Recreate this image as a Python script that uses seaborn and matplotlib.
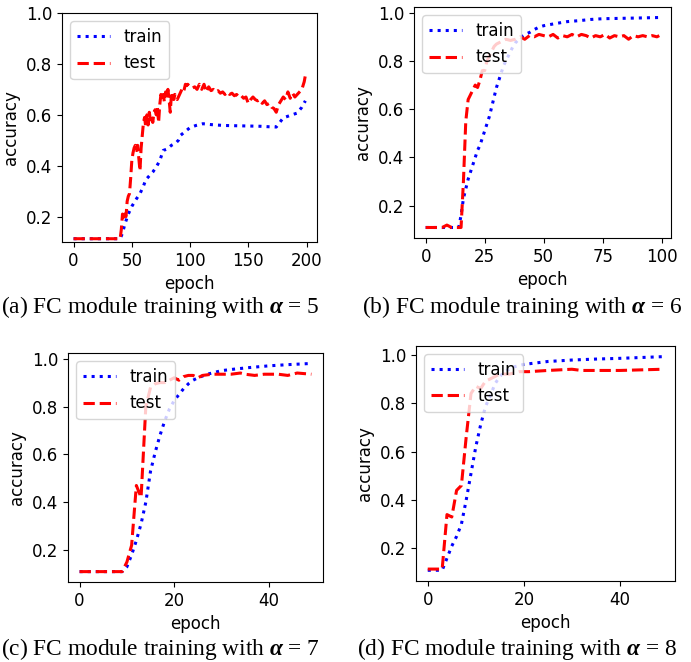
import matplotlib
matplotlib.use('Agg')
import matplotlib.pyplot as plt
import pandas as pd
import seaborn as sns

plt.rcParams.update({
    'font.size': 12.0,
    'mathtext.fontset': 'custom',
    'mathtext.rm': 'Liberation Serif',
    'mathtext.it': 'Liberation Serif:italic:bold',
})

# (a) alpha = 5, 200 epochs
a_train_ep = [0, 40, 42, 44, 47, 50, 54, 57, 60, 62, 65, 68, 71, 74, 77, 80, 84, 88, 90, 92, 96,
              100, 105, 111, 117, 122, 130, 140, 150, 160, 168, 174, 177, 180, 185, 192, 196, 199]
a_train_acc = [0.113, 0.113, 0.135, 0.17, 0.21, 0.24, 0.27, 0.29, 0.32, 0.345, 0.36, 0.375, 0.395, 0.42,
               0.46, 0.465, 0.48, 0.49, 0.50, 0.52, 0.535, 0.55, 0.558, 0.565, 0.562, 0.56, 0.558, 0.557,
               0.556, 0.555, 0.553, 0.552, 0.57, 0.588, 0.596, 0.607, 0.63, 0.655]
a_test_ep = [0, 40, 41, 42, 43, 44, 45, 46, 47, 48, 49, 50, 51, 52, 53, 54, 55, 56, 57, 58, 59,
             60, 61, 62, 63, 64, 65, 66, 67, 68, 69, 70, 71, 72, 73, 74, 75, 76, 77, 78, 79,
             80, 81, 82, 83, 84, 85, 86, 87, 88, 89, 90, 91, 92, 93, 94, 95, 96, 97, 98,
             100, 102, 104, 106, 108, 110, 112, 114, 116, 118, 120, 122, 124, 126, 128,
             130, 132, 134, 136, 138, 140, 142, 144, 146, 148, 150, 152, 154, 156, 158,
             160, 162, 164, 166, 168, 170, 172, 174, 176, 178, 180, 182, 184, 186, 188,
             190, 192, 194, 196, 198, 199]
a_test_acc = [0.113, 0.113, 0.15, 0.21, 0.19, 0.21, 0.20, 0.26, 0.28, 0.29, 0.35, 0.42, 0.45, 0.47,
              0.48, 0.46, 0.48, 0.43, 0.38, 0.47, 0.52,
              0.57, 0.59, 0.55, 0.60, 0.56, 0.61, 0.58, 0.60, 0.57, 0.61, 0.62, 0.60, 0.63, 0.57,
              0.64, 0.68, 0.66, 0.68, 0.65, 0.69,
              0.67, 0.70, 0.66, 0.61, 0.68, 0.69, 0.66, 0.68, 0.67, 0.66, 0.67, 0.68, 0.69, 0.70,
              0.69, 0.70, 0.72, 0.715, 0.72,
              0.71, 0.705, 0.71, 0.70, 0.72, 0.70, 0.72, 0.69, 0.71, 0.695, 0.70, 0.69, 0.695,
              0.685, 0.69,
              0.68, 0.69, 0.68, 0.685, 0.675, 0.68, 0.67, 0.675, 0.665, 0.67, 0.645, 0.66, 0.67,
              0.66, 0.655,
              0.66, 0.645, 0.655, 0.64, 0.645, 0.63, 0.625, 0.61, 0.64, 0.655, 0.67, 0.66, 0.69,
              0.665, 0.685,
              0.67, 0.68, 0.69, 0.70, 0.73, 0.755]

# (b) alpha = 6, 100 epochs
b_train_ep = [0, 14, 15, 16, 17, 18, 19, 20, 21, 22, 23, 24, 25, 26, 27, 28, 29, 30, 31, 32, 33,
              34, 35, 36, 37, 38, 40, 42, 44, 46, 48, 50, 55, 60, 65, 70, 75, 80, 90, 99]
b_train_acc = [0.11, 0.11, 0.16, 0.23, 0.27, 0.31, 0.34, 0.37, 0.40, 0.43, 0.45, 0.48, 0.51, 0.54,
               0.57, 0.61, 0.65, 0.69, 0.72, 0.75, 0.78, 0.80, 0.82, 0.84, 0.86, 0.875, 0.895, 0.91,
               0.918, 0.93, 0.94, 0.946, 0.955, 0.963, 0.967, 0.972, 0.975, 0.976, 0.978, 0.98]
b_test_ep = [0, 7, 8, 9, 10, 11, 13, 14, 15, 16, 17, 18, 19, 20, 21, 22, 23, 24, 25, 26, 27, 28,
             29, 30, 32, 34, 36, 38, 40, 42, 44, 46, 48, 50, 52, 54, 56, 58, 60, 62, 64, 66,
             68, 70, 72, 74, 76, 78, 80, 82, 84, 86, 88, 90, 92, 94, 96, 98, 99]
b_test_acc = [0.11, 0.11, 0.115, 0.12, 0.115, 0.11, 0.11, 0.11, 0.11, 0.30, 0.55, 0.64, 0.66, 0.68,
              0.70, 0.69, 0.72, 0.76, 0.76, 0.80, 0.82, 0.84, 0.86, 0.87, 0.88, 0.89, 0.885, 0.89,
              0.90, 0.89, 0.905, 0.90, 0.91, 0.905, 0.90, 0.91, 0.895, 0.905, 0.90, 0.91, 0.90,
              0.91, 0.905, 0.895, 0.905, 0.90, 0.91, 0.895, 0.905, 0.90, 0.905, 0.89, 0.905,
              0.90, 0.905, 0.90, 0.905, 0.90, 0.905]

# (c) alpha = 7, 50 epochs
c_train_ep = [0, 9, 10, 11, 12, 13, 14, 15, 16, 17, 18, 19, 20, 21, 22, 23, 24, 25, 27, 30, 33,
              36, 40, 44, 49]
c_train_acc = [0.11, 0.11, 0.13, 0.18, 0.24, 0.31, 0.40, 0.53, 0.61, 0.68, 0.74, 0.79, 0.825, 0.85,
               0.875, 0.895, 0.91, 0.92, 0.935, 0.95, 0.957, 0.963, 0.97, 0.975, 0.98]
c_test_ep = [0, 9, 10, 11, 12, 13, 14, 15, 16, 17, 18, 19, 20, 21, 22, 23, 24, 25, 26, 28, 30,
             32, 34, 35, 37, 39, 42, 44, 46, 49]
c_test_acc = [0.11, 0.11, 0.15, 0.22, 0.47, 0.42, 0.80, 0.88, 0.895, 0.90, 0.90, 0.91, 0.92, 0.91,
              0.925, 0.93, 0.93, 0.92, 0.93, 0.935, 0.935, 0.935, 0.94, 0.935, 0.93, 0.935, 0.935,
              0.93, 0.94, 0.935]

# (d) alpha = 8, 50 epochs
d_train_ep = [0, 3, 4, 5, 6, 7, 8, 9, 10, 11, 12, 13, 14, 15, 16, 18, 20, 25, 30, 35, 40, 49]
d_train_acc = [0.11, 0.11, 0.16, 0.21, 0.25, 0.30, 0.40, 0.51, 0.62, 0.71, 0.785, 0.83, 0.88, 0.91,
               0.93, 0.95, 0.96, 0.972, 0.978, 0.982, 0.985, 0.992]
d_test_ep = [0, 3, 4, 5, 6, 7, 8, 9, 10, 11, 12, 13, 14, 15, 17, 19, 21, 25, 30, 32, 40, 49]
d_test_acc = [0.115, 0.115, 0.34, 0.33, 0.44, 0.46, 0.66, 0.84, 0.87, 0.86, 0.89, 0.90, 0.91, 0.92,
              0.92, 0.93, 0.93, 0.935, 0.94, 0.935, 0.935, 0.94]

x_ticks = [[0, 50, 100, 150, 200], [0, 25, 50, 75, 100], [0, 20, 40], [0, 20, 40]]

captions = [r'(a) FC module training with $\alpha$ = 5',
            r'(b) FC module training with $\alpha$ = 6',
            r'(c) FC module training with $\alpha$ = 7',
            r'(d) FC module training with $\alpha$ = 8']

panels = [
    (a_train_ep, a_train_acc, a_test_ep, a_test_acc),
    (b_train_ep, b_train_acc, b_test_ep, b_test_acc),
    (c_train_ep, c_train_acc, c_test_ep, c_test_acc),
    (d_train_ep, d_train_acc, d_test_ep, d_test_acc),
]

# axes boxes in figure fractions, measured off the page
boxes = [[0.0897, 0.6344, 0.369, 0.3459],
         [0.5991, 0.6405, 0.3719, 0.3489],
         [0.0984, 0.1208, 0.369, 0.3459],
         [0.6020, 0.1224, 0.3748, 0.3550]]
cap_pos = [(0.232, 0.536), (0.756, 0.536), (0.232, 0.020), (0.748, 0.020)]

fig = plt.figure(figsize=(6.91, 6.62), dpi=100)

for i, (tr_x, tr_y, te_x, te_y) in enumerate(panels):
    ax = fig.add_axes(boxes[i])
    train = pd.DataFrame({'epoch': tr_x, 'accuracy': tr_y})
    test = pd.DataFrame({'epoch': te_x, 'accuracy': te_y})
    sns.lineplot(data=train, x='epoch', y='accuracy', ax=ax, color='b',
                 linestyle=':', linewidth=2.2, label='train')
    sns.lineplot(data=test, x='epoch', y='accuracy', ax=ax, color='r',
                 linestyle='--', linewidth=2.2, label='test')
    if i == 0:
        ax.set_ylim(0.1, 1.0)
    ax.set_yticks([0.2, 0.4, 0.6, 0.8, 1.0])
    ax.set_xticks(x_ticks[i])
    ax.legend(loc='upper left')
    fig.text(cap_pos[i][0], cap_pos[i][1], captions[i], ha='center', va='center',
             family='Liberation Serif', fontsize=16.8)

fig.savefig('out.png', dpi=100)
